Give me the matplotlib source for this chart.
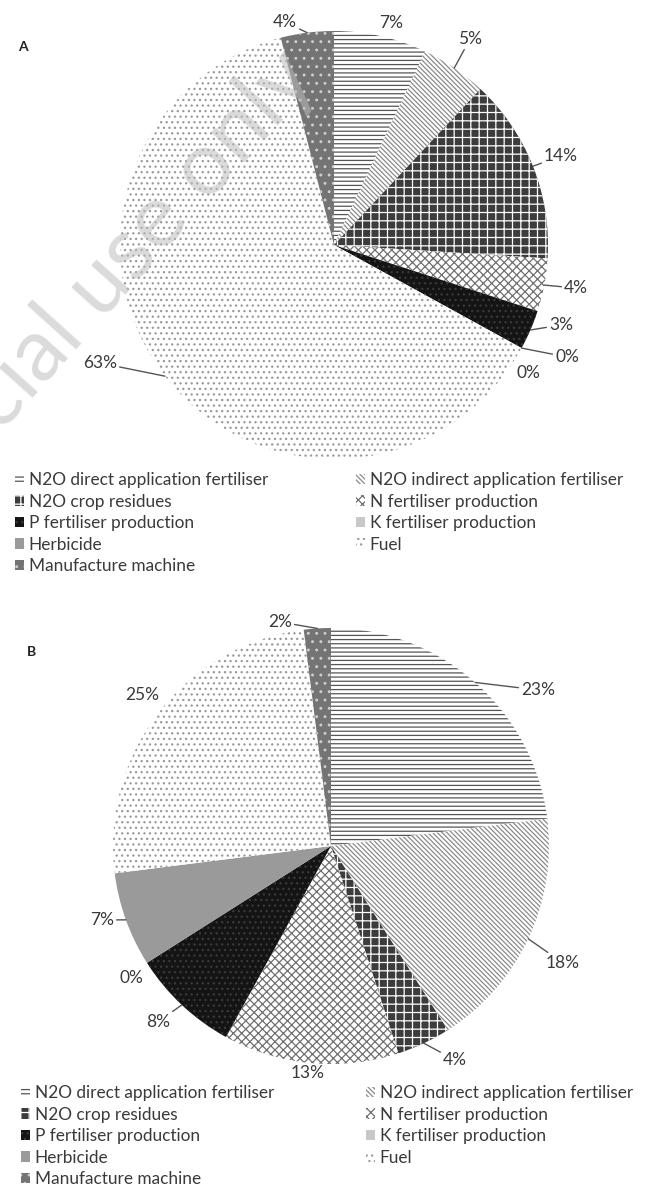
import matplotlib
matplotlib.use("Agg")
import matplotlib.pyplot as plt
import numpy as np

plt.rcParams['font.family'] = ['Lato', 'DejaVu Sans']
plt.rcParams['hatch.linewidth'] = 0.9

# data
categories = ['N2O direct application fertiliser', 'N2O indirect application fertiliser',
              'N2O crop residues', 'N fertiliser production', 'P fertiliser production',
              'K fertiliser production', 'Herbicide', 'Fuel', 'Manufacture machine']
share_a = [7, 5, 14, 4, 3, 0, 0, 63, 4]
share_b = [23, 18, 4, 13, 8, 0, 7, 25, 2]

# styles (face, hatch, hatch colour)
faces = ['white', 'white', '#3c3c3c', 'white', '#141414', '#c8c8c8', '#9a9a9a', 'white', '#747474']
hatches = ['----', '\\\\\\\\\\\\\\', '++', 'xxxx', '...', None, None, '...', '..']
hatch_cols = ['#555555', '#8a8a8a', 'white', '#707070', '#3a3a3a', '#c8c8c8', '#9a9a9a', '#9a9a9a', '#cfcfcf']

txt_col = '#3a3a3a'
W, H = 646, 1185

fig = plt.figure(figsize=(W / 100, H / 100), dpi=100)


def make_axes(top, bottom):
    ax = fig.add_axes([0, 1 - bottom / H, 1, (bottom - top) / H])
    return ax


def draw_pie(ax, vals, cx, cy, r, top, bottom, label_px, leaders):
    wedges, _ = ax.pie(vals, startangle=90, counterclock=False, radius=1,
                       wedgeprops=dict(linewidth=0))
    for w, f, h, hc in zip(wedges, faces, hatches, hatch_cols):
        w.set_facecolor(f)
        w.set_edgecolor(hc)
        w.set_linewidth(0)
        if h:
            w.set_hatch(h)
    ax.set_aspect('auto')
    ax.set_xlim(-cx / r, (W - cx) / r)
    ax.set_ylim(-(bottom - cy) / r, (cy - top) / r)
    ax.axis('off')
    for w, v, (px, py), lead in zip(wedges, vals, label_px, leaders):
        tx, ty = (px - cx) / r, (cy - py) / r
        mid = np.deg2rad((w.theta1 + w.theta2) / 2)
        xy = (1.0 * np.cos(mid), 1.0 * np.sin(mid))
        if lead:
            ax.annotate(f'{v}%', xy=xy, xytext=(tx, ty), ha='center', va='center',
                        fontsize=12.5, color=txt_col,
                        bbox=dict(boxstyle='square,pad=0.15', fc='none', ec='none'),
                        arrowprops=dict(arrowstyle='-', color='#555555', lw=1.0,
                                        shrinkA=0, shrinkB=0))
        else:
            ax.text(tx, ty, f'{v}%', ha='center', va='center', fontsize=12.5, color=txt_col)
    return wedges


def draw_legend(wedges, y_top, x_left, x_right):
    order_l = [0, 2, 4, 6, 8]
    order_r = [1, 3, 5, 7]
    for order, x in ((order_l, x_left), (order_r, x_right)):
        fig.legend([wedges[i] for i in order], [categories[i] for i in order],
                   loc='upper left', bbox_to_anchor=(x / W, 1 - y_top / H),
                   frameon=False, fontsize=12.4, labelcolor=txt_col,
                   handlelength=0.55, handleheight=0.55, handletextpad=0.25,
                   labelspacing=0.32, borderpad=0, borderaxespad=0)


# chart A
cxa, cya, ra = 334, 245, 214
ax_a = make_axes(0, 470)
lab_a = [(391, 23), (470, 39), (561, 156), (576, 288), (561, 325), (567, 357),
         (528, 373), (100, 363), (285, 22)]
lead_a = [False, True, True, True, True, True, False, True, True]
wa = draw_pie(ax_a, share_a, cxa, cya, ra, 0, 470, lab_a, lead_a)
fig.text(23 / W, 1 - 47 / H, 'A', fontsize=10, fontweight='bold', color='#222222',
         ha='center', va='center')
draw_legend(wa, 472, 15, 356)

# chart B
cxb, cyb, rb = 331, 846, 218
ax_b = make_axes(580, 1080)
lab_b = [(538, 690), (563, 963), (455, 1060), (308, 1073), (158, 1022), (131, 978),
         (102, 920), (142, 695), (280, 622)]
lead_b = [True, True, True, False, True, False, True, False, True]
wb = draw_pie(ax_b, share_b, cxb, cyb, rb, 580, 1080, lab_b, lead_b)
fig.text(32 / W, 1 - 652 / H, 'B', fontsize=10, fontweight='bold', color='#222222',
         ha='center', va='center')
draw_legend(wb, 1085, 21, 366)

# watermark
fig.text(318 / W, 1 - 80 / H, 'Non-commercial use only', fontsize=64, color='#bdbdbd',
         alpha=0.55, rotation=48, rotation_mode='anchor', ha='right', va='baseline',
         zorder=10)

plt.savefig('out.png', dpi=100)
